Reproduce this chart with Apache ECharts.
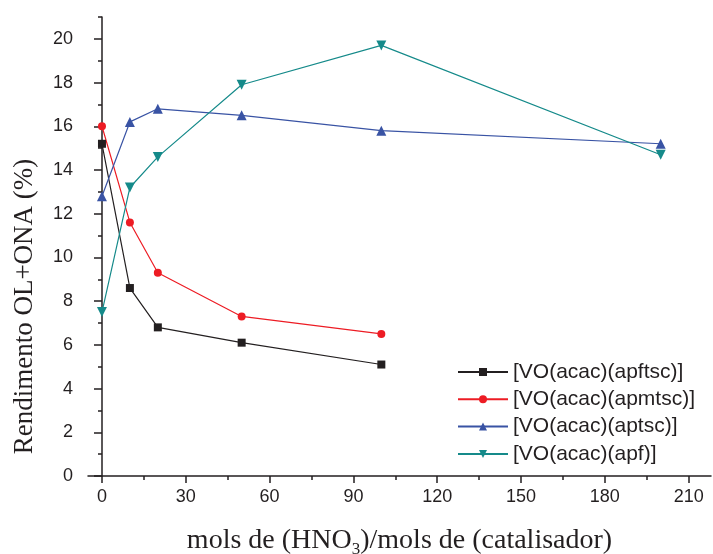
<!DOCTYPE html>
<html>
<head>
<meta charset="utf-8">
<script src="https://cdn.jsdelivr.net/npm/echarts@6/dist/echarts.min.js"></script>
<style>html,body{margin:0;padding:0;background:#fff;}#c{width:713px;height:554px;}</style>
</head>
<body>
<div id="c"></div>
<script>
const xApftsc = [0, 10, 20, 50, 100];
const yApftsc = [15.2, 8.6, 6.8, 6.1, 5.1];
const xApmtsc = [0, 10, 20, 50, 100];
const yApmtsc = [16.0, 11.6, 9.3, 7.3, 6.5];
const xAptsc = [0, 10, 20, 50, 100, 200];
const yAptsc = [12.8, 16.2, 16.8, 16.5, 15.8, 15.2];
const xApf = [0, 10, 20, 50, 100, 200];
const yApf = [7.5, 13.2, 14.6, 17.9, 19.7, 14.7];
const seriesNames = ['[VO(acac)(apftsc)]', '[VO(acac)(apmtsc)]', '[VO(acac)(aptsc)]', '[VO(acac)(apf)]'];
const xTicks = [0, 30, 60, 90, 120, 150, 180, 210];
const xMinorTicks = [15, 45, 75, 105, 135, 165, 195];
const yTicks = [0, 2, 4, 6, 8, 10, 12, 14, 16, 18, 20];
const yMinorTicks = [1, 3, 5, 7, 9, 11, 13, 15, 17, 19, 21];

const pair = (xs, ys) => xs.map((x, i) => [x, ys[i]]);
const txt = '#231f20';
const sans = '"Liberation Sans", Arial, sans-serif';
const serif = '"Liberation Serif", "Times New Roman", serif';

const chart = echarts.init(document.getElementById('c'));
const axisBase = {
  axisLine: { show: true, lineStyle: { color: txt, width: 1.5 } },
  splitLine: { show: false }
};
chart.setOption({
  animation: false,
  grid: { left: 88, right: 2, top: 17, bottom: 78, containLabel: false, outerBoundsMode: 'none' },
  legend: {
    orient: 'vertical', left: 452, top: 356,
    itemWidth: 50, itemHeight: 10, itemGap: 5.3,
    textStyle: { fontFamily: sans, fontSize: 21, color: txt, lineHeight: 22 },
    data: seriesNames
  },
  xAxis: [
    Object.assign({}, axisBase, {
      type: 'value', min: -5, max: 218, position: 'bottom',
      axisTick: { show: true, inside: false, length: 7, customValues: xTicks, lineStyle: { color: txt, width: 1.5 } },
      axisLabel: { customValues: xTicks, fontFamily: sans, fontSize: 18, color: txt, margin: 12 },
      name: '{a|mols de (HNO}{s|3}{a|)/mols de (catalisador)}',
      nameLocation: 'middle', nameGap: 48,
      nameTextStyle: {
        rich: {
          a: { fontFamily: serif, fontSize: 28, color: txt, lineHeight: 34, verticalAlign: 'middle' },
          s: { fontFamily: serif, fontSize: 17, color: txt, lineHeight: 14, verticalAlign: 'bottom' }
        }
      }
    }),
    {
      type: 'value', min: -5, max: 218, position: 'bottom', gridIndex: 0,
      axisLine: { show: false }, splitLine: { show: false },
      axisLabel: { show: false },
      axisTick: { show: true, inside: false, length: 4, customValues: xMinorTicks, lineStyle: { color: txt, width: 1.5 } }
    }
  ],
  yAxis: [
    Object.assign({}, axisBase, {
      type: 'value', min: 0, max: 21, position: 'left',
      axisTick: { show: true, inside: false, length: 8, customValues: yTicks, lineStyle: { color: txt, width: 1.5 } },
      axisLabel: { customValues: yTicks, fontFamily: sans, fontSize: 18, color: txt, margin: 15 },
      name: 'Rendimento OL+ONA (%)',
      nameLocation: 'middle', nameGap: 50,
      nameTextStyle: { fontFamily: serif, fontSize: 27, color: txt, padding: [0, 120, 0, 0] }
    }),
    {
      type: 'value', min: 0, max: 21, position: 'left', gridIndex: 0,
      axisLine: { show: false }, splitLine: { show: false },
      axisLabel: { show: false },
      axisTick: { show: true, inside: false, length: 4, customValues: yMinorTicks, lineStyle: { color: txt, width: 1.5 } }
    }
  ],
  series: [
    { name: seriesNames[0], type: 'line', data: pair(xApftsc, yApftsc), symbol: 'rect', symbolSize: 8,
      color: '#231f20', lineStyle: { width: 1.2 } },
    { name: seriesNames[1], type: 'line', data: pair(xApmtsc, yApmtsc), symbol: 'circle', symbolSize: 8,
      color: '#ed1c24', lineStyle: { width: 1.2 } },
    { name: seriesNames[2], type: 'line', data: pair(xAptsc, yAptsc), symbol: 'triangle', symbolSize: 10,
      color: '#3953a4', lineStyle: { width: 1.2 } },
    { name: seriesNames[3], type: 'line', data: pair(xApf, yApf), symbol: 'triangle', symbolRotate: 180, symbolSize: 10,
      color: '#158a8a', lineStyle: { width: 1.2 } }
  ]
});
</script>
</body>
</html>
